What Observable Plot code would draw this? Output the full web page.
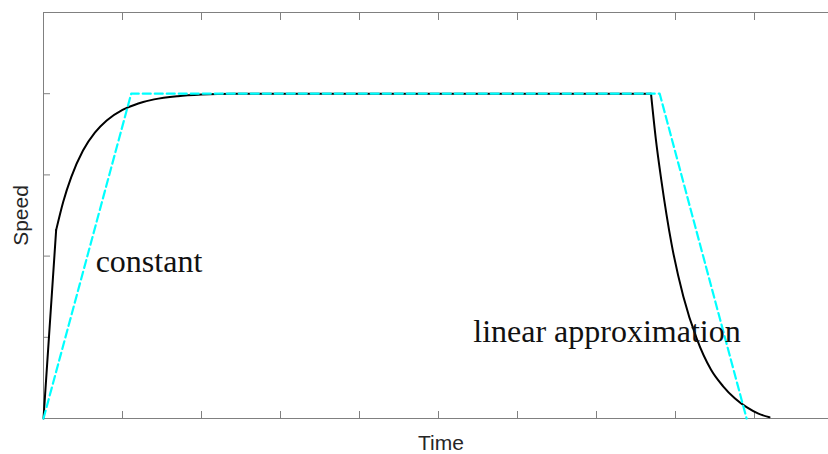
<!DOCTYPE html>
<html>
<head>
<meta charset="utf-8">
<script src="https://cdn.jsdelivr.net/npm/d3@7"></script>
<script src="https://cdn.jsdelivr.net/npm/@observablehq/plot@0.6"></script>
<style>
  html, body { margin: 0; padding: 0; background: #fff; }
  #chart svg { display: block; }
</style>
</head>
<body>
<div id="chart"></div>
<script>
// ---- data ----
// black curve: fast initial rise (kink), smooth approach, plateau, smooth drop
const riseT     = [0, 0.16];
const riseSpeed = [0, 2.32];
const approachT     = [0.16, 0.25, 0.35, 0.5, 0.65, 0.8, 1.0, 1.2, 1.4, 1.7, 2.0, 2.4, 7.69];
const approachSpeed = [2.32, 2.67, 2.97, 3.30, 3.52, 3.67, 3.80, 3.88, 3.93, 3.97, 3.99, 4.0, 4.0];
const dropT     = [7.69, 7.75, 7.82, 7.95, 8.10, 8.27, 8.45, 8.60, 8.75, 8.90, 9.05, 9.19];
const dropSpeed = [4.0, 3.45, 2.94, 2.15, 1.50, 0.98, 0.60, 0.40, 0.25, 0.14, 0.06, 0.015];
// cyan dashed linear approximation
const approxT     = [0, 1.11, 7.80, 8.90];
const approxSpeed = [0, 4, 4, 0];
// axes ticks (no labels)
const xTicks = [0, 1, 2, 3, 4, 5, 6, 7, 8, 9];
const yTicks = [0, 1, 2, 3, 4, 5];
// annotations
const labelText  = ["constant", "linear approximation"];
const labelT     = [0.66, 5.44];
const labelSpeed = [1.81, 0.94];

const toRows = (ts, ys) => ts.map((t, i) => ({t, s: ys[i]}));
const rise = toRows(riseT, riseSpeed);
const approach = toRows(approachT, approachSpeed);
const drop = toRows(dropT, dropSpeed);
const approx = toRows(approxT, approxSpeed);
const labels = labelText.map((text, i) => ({text, t: labelT[i], s: labelSpeed[i]}));

const axisColor = "#808080";

const chart = Plot.plot({
  width: 828,
  height: 454,
  marginLeft: 43,
  marginRight: 0,
  marginTop: 12,
  marginBottom: 36,
  style: {background: "#fff"},
  x: {domain: [0, 10], range: [43, 833]},
  y: {domain: [0, 5]},
  marks: [
    // axis lines
    Plot.ruleY([0, 5], {stroke: axisColor, strokeWidth: 1}),
    Plot.ruleX([0], {stroke: axisColor, strokeWidth: 1}),
    // inward ticks
    Plot.axisX(xTicks, {anchor: "bottom", tickSize: -7, tickFormat: () => "", label: null, stroke: axisColor}),
    Plot.axisX(xTicks, {anchor: "top", tickSize: -7, tickFormat: () => "", label: null, stroke: axisColor}),
    Plot.axisY(yTicks, {anchor: "left", tickSize: -7, tickFormat: () => "", label: null, stroke: axisColor}),
    // black curve
    Plot.line(rise, {x: "t", y: "s", stroke: "black", strokeWidth: 2}),
    Plot.line(approach, {x: "t", y: "s", stroke: "black", strokeWidth: 2, curve: "monotone-x"}),
    Plot.line(drop, {x: "t", y: "s", stroke: "black", strokeWidth: 2, curve: "monotone-x"}),
    // cyan dashed approximation on top
    Plot.line(approx, {x: "t", y: "s", stroke: "#00ffff", strokeWidth: 2.2, strokeDasharray: "8,4"}),
    // annotations
    Plot.text(labels, {x: "t", y: "s", text: "text", textAnchor: "start", lineAnchor: "bottom",
      fontSize: 32, fontFamily: "Liberation Serif", fill: "#111"}),
    // axis labels
    Plot.text(["Time"], {frameAnchor: "bottom", textAnchor: "middle", dx: 5, dy: 31, lineAnchor: "bottom",
      fontSize: 21, fontFamily: "Liberation Sans", fill: "#262626"}),
    Plot.text(["Speed"], {frameAnchor: "left", textAnchor: "middle", rotate: -90, dx: -16, lineAnchor: "bottom",
      fontSize: 21, fontFamily: "Liberation Sans", fill: "#262626"})
  ]
});
document.getElementById("chart").appendChild(chart);
</script>
</body>
</html>
